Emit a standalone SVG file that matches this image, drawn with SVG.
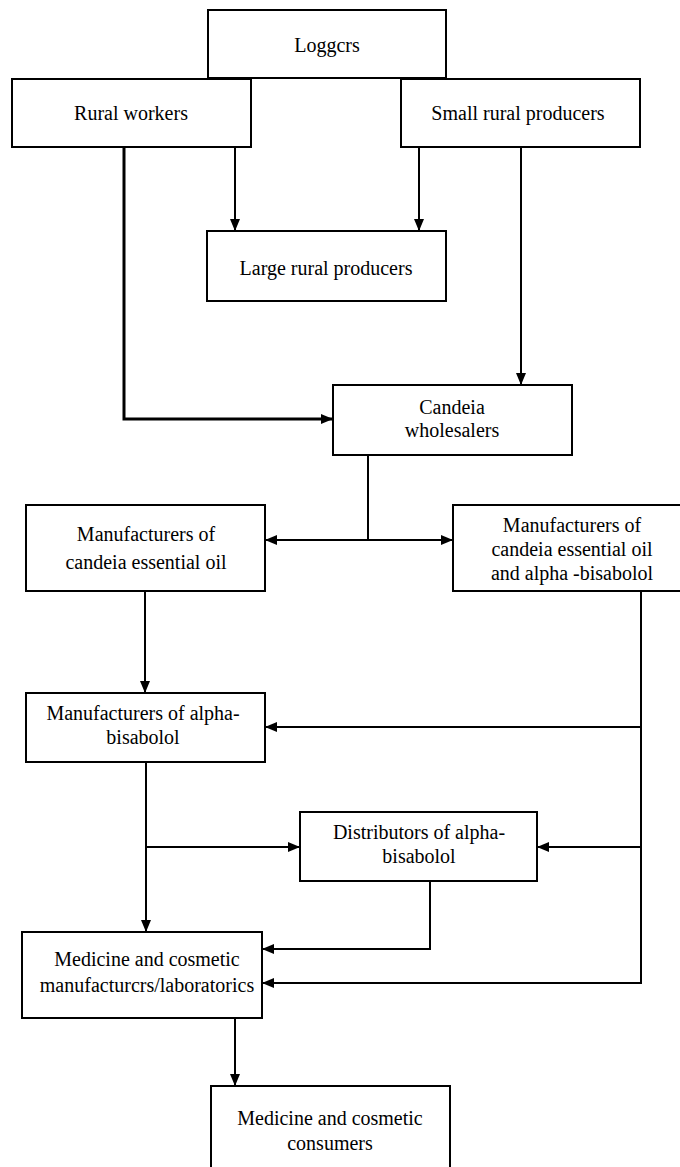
<svg xmlns="http://www.w3.org/2000/svg" width="680" height="1167" viewBox="0 0 680 1167">
<defs>
<style>
.box{fill:#fff;stroke:#000;stroke-width:2}
.t{font-family:"Liberation Serif","Times New Roman",serif;font-size:20px;fill:#000;text-anchor:middle}
.c{fill:none;stroke:#000;stroke-width:2}
</style>
<marker id="ah" viewBox="0 0 12 10" refX="12" refY="5" markerWidth="12" markerHeight="10" markerUnits="userSpaceOnUse" orient="auto-start-reverse">
<path d="M0,0 L12,5 L0,10 Z" fill="#000"/>
</marker>
</defs>
<rect width="680" height="1167" fill="#fff"/>
<g id="connectors">
<path class="c" style="stroke-width:3" d="M124,147 V419 H333" marker-end="url(#ah)"/>
<path class="c" d="M235,147 V231" marker-end="url(#ah)"/>
<path class="c" d="M419,147 V231" marker-end="url(#ah)"/>
<path class="c" d="M521,147 V385" marker-end="url(#ah)"/>
<path class="c" d="M368,455 V540"/>
<path class="c" d="M265,540 H453" marker-start="url(#ah)" marker-end="url(#ah)"/>
<path class="c" d="M145,591 V693" marker-end="url(#ah)"/>
<path class="c" d="M641,591 V983 H262" marker-end="url(#ah)"/>
<path class="c" d="M641,727 H265" marker-end="url(#ah)"/>
<path class="c" d="M146,762 V932" marker-end="url(#ah)"/>
<path class="c" d="M146,847 H300" marker-end="url(#ah)"/>
<path class="c" d="M641,847 H537" marker-end="url(#ah)"/>
<path class="c" d="M430,881 V949 H262" marker-end="url(#ah)"/>
<path class="c" d="M235,1018 V1086" marker-end="url(#ah)"/>
</g>
<g id="loggers"><rect class="box" x="208" y="10" width="238" height="68"/><text class="t" x="327" y="52">Loggcrs</text></g>
<g id="rural-workers"><rect class="box" x="12" y="79" width="239" height="68"/><text class="t" x="131" y="120">Rural  workers</text></g>
<g id="small-rural-producers"><rect class="box" x="401" y="79" width="239" height="68"/><text class="t" x="518" y="120">Small rural producers</text></g>
<g id="large-rural-producers"><rect class="box" x="207" y="231" width="239" height="70"/><text class="t" x="326" y="275">Large  rural producers</text></g>
<g id="candeia-wholesalers"><rect class="box" x="333" y="385" width="239" height="70"/><text class="t" x="452" y="414">Candeia</text><text class="t" x="452" y="437">wholesalers</text></g>
<g id="mfr-oil"><rect class="box" x="26" y="505" width="239" height="86"/><text class="t" x="146" y="541">Manufacturers  of</text><text class="t" x="146" y="569">candeia essential oil</text></g>
<g id="mfr-oil-bisabolol"><rect class="box" x="453" y="505" width="240" height="86"/><text class="t" x="572" y="532">Manufacturers  of</text><text class="t" x="572" y="556">candeia essential oil</text><text class="t" x="572" y="580">and alpha -bisabolol</text></g>
<g id="mfr-bisabolol"><rect class="box" x="26" y="693" width="239" height="69"/><text class="t" x="143" y="720">Manufacturers  of alpha-</text><text class="t" x="143" y="744">bisabolol</text></g>
<g id="distributors"><rect class="box" x="300" y="812" width="237" height="69"/><text class="t" x="419" y="839">Distributors  of alpha-</text><text class="t" x="419" y="863">bisabolol</text></g>
<g id="medicine-manufacturers"><rect class="box" x="22" y="932" width="240" height="86"/><text class="t" x="147" y="966">Medicine  and cosmetic</text><text class="t" x="147" y="992">manufacturcrs/laboratorics</text></g>
<g id="consumers"><rect class="box" x="211" y="1086" width="239" height="110"/><text class="t" x="330" y="1125">Medicine  and cosmetic</text><text class="t" x="330" y="1150">consumers</text></g>
</svg>
